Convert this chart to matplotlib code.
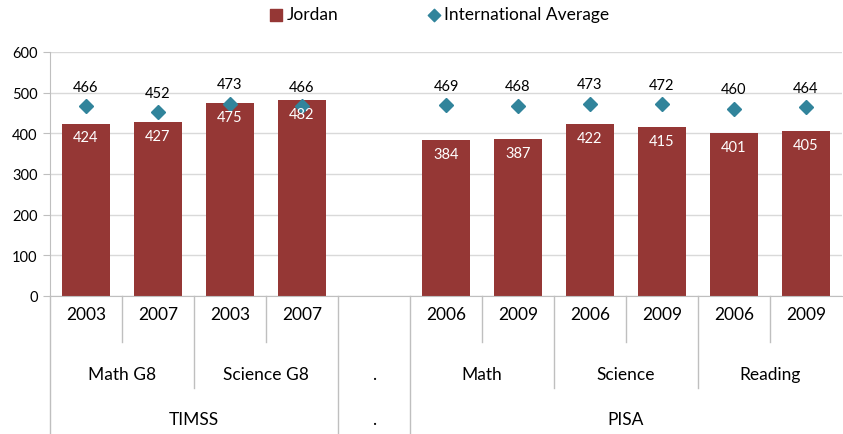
import numpy as np
import matplotlib.pyplot as plt
import matplotlib.transforms as mtransforms

plt.rcParams['font.family'] = ['Lato', 'DejaVu Sans']

# data
years = ['2003', '2007', '2003', '2007', '', '2006', '2009', '2006', '2009', '2006', '2009']
jordan = [424, 427, 475, 482, np.nan, 384, 387, 422, 415, 401, 405]
intl_avg = [466, 452, 473, 466, np.nan, 469, 468, 473, 472, 460, 464]
subjects = ['Math G8', 'Science G8', '.', 'Math', 'Science', 'Reading']
subject_spans = [(0, 2), (2, 4), (4, 5), (5, 7), (7, 9), (9, 11)]
assessments = ['TIMSS', '.', 'PISA']
assessment_spans = [(0, 4), (4, 5), (5, 11)]

bar_col = '#953735'
dia_col = '#31849b'
line_col = '#bfbfbf'

fig = plt.figure(figsize=(8.43, 4.35), dpi=100)
ax = fig.add_axes([50/843, 138/435, 792/843, 244/435])

x = np.arange(len(years))
ax.bar(x, jordan, width=0.66, color=bar_col, zorder=2)
ax.plot(x, intl_avg, 'D', color=dia_col, markersize=7, zorder=3, linestyle='none')

for xi, j, a in zip(x, jordan, intl_avg):
    if np.isnan(j):
        continue
    ax.annotate(f'{j:.0f}', (xi, j), xytext=(0, -10), textcoords='offset points',
                ha='center', va='center', color='white', fontsize=10.5, zorder=4)
    ax.annotate(f'{a:.0f}', (xi, a), xytext=(0, 14), textcoords='offset points',
                ha='center', va='center', color='black', fontsize=10.5, zorder=4)

ax.set_xlim(-0.5, len(years) - 0.5)
ax.set_ylim(0, 600)
ax.set_yticks(range(0, 601, 100))
ax.tick_params(axis='y', labelsize=10.5, length=5, color=line_col, pad=4)
ax.yaxis.grid(True, color='#d9d9d9', linewidth=1)
ax.set_axisbelow(True)
ax.set_xticks([])
for s in ['top', 'right']:
    ax.spines[s].set_visible(False)
ax.spines['left'].set_color(line_col)
ax.spines['bottom'].set_color(line_col)

# multi-level category axis
tr = mtransforms.blended_transform_factory(ax.transData, ax.transAxes)
y_year, y_subj, y_assess = -0.074, -0.32, -0.505
y_short, y_mid, y_full = -0.19, -0.375, -0.57

for xi, yr in zip(x, years):
    ax.text(xi, y_year, yr, transform=tr, ha='center', va='center', fontsize=12.5)
for name, (a, b) in zip(subjects, subject_spans):
    ax.text((a + b - 1) / 2, y_subj, name, transform=tr, ha='center', va='center', fontsize=12.5)
for name, (a, b) in zip(assessments, assessment_spans):
    ax.text((a + b - 1) / 2, y_assess, name, transform=tr, ha='center', va='center', fontsize=12.5)

full_edges = sorted({a for a, b in assessment_spans})
mid_edges = sorted({a for a, b in subject_spans})
for e in range(len(years)):
    if e in full_edges:
        bottom = y_full
    elif e in mid_edges:
        bottom = y_mid
    else:
        bottom = y_short
    ax.plot([e - 0.5, e - 0.5], [0, bottom], transform=tr, color=line_col,
            linewidth=1, clip_on=False)

# legend
h1 = ax.scatter([], [], marker='s', color=bar_col, s=75)
h2 = ax.scatter([], [], marker='D', color=dia_col, s=40)
fig.legend([h1, h2], ['Jordan', 'International Average'], loc='center',
           bbox_to_anchor=(0.52, 0.965), ncol=2, frameon=False, fontsize=12.5,
           handletextpad=0.1, columnspacing=5, handlelength=1)

fig.savefig('out.png', dpi=100)
